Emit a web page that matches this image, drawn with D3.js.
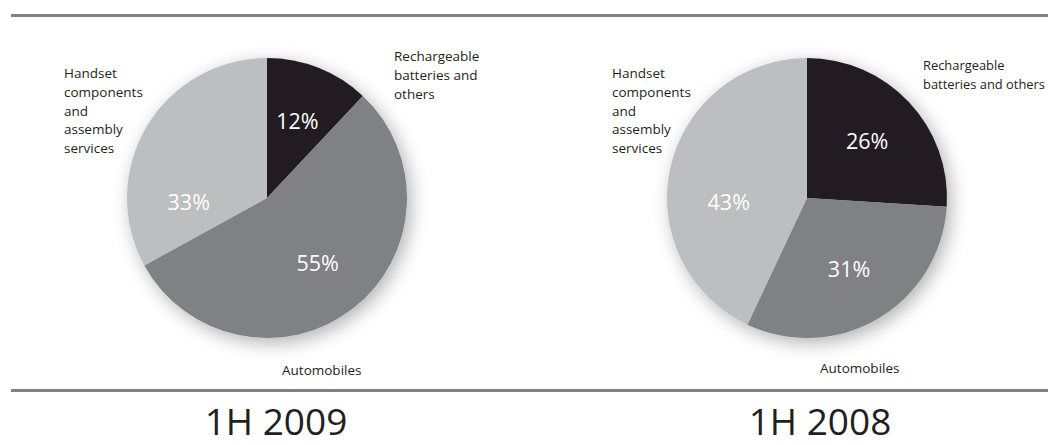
<!DOCTYPE html>
<html>
<head>
<meta charset="utf-8">
<script src="https://cdn.jsdelivr.net/npm/d3@7"></script>
<style>
  body { margin: 0; background: #fff; }
  svg { display: block; font-family: "Open Sans", "Noto Sans", sans-serif; }
</style>
</head>
<body>
<script>
// data
const categories = ["Rechargeable batteries and others", "Automobiles", "Handset components and assembly services"];
const periods = ["1H 2009", "1H 2008"];
const share2009 = [12, 55, 33];
const share2008 = [26, 31, 43];
const sliceColours = ["#231f20", "#808184", "#bcbec0"];

// how the category names are broken into lines next to each pie
const labelLines2009 = [["Rechargeable", "batteries and", "others"], ["Automobiles"], ["Handset", "components", "and", "assembly", "services"]];
const labelLines2008 = [["Rechargeable", "batteries and others"], ["Automobiles"], ["Handset", "components", "and", "assembly", "services"]];

let width = 1048,
  height = 445;

let svg = d3.select("body").append("svg")
  .attr("width", width)
  .attr("height", height);

// soft drop shadow under the pies
let defs = svg.append("defs");
let shadow = defs.append("filter")
  .attr("id", "shadow")
  .attr("x", "-30%").attr("y", "-30%")
  .attr("width", "160%").attr("height", "160%");
shadow.append("feDropShadow")
  .attr("dx", 4).attr("dy", 5)
  .attr("stdDeviation", 9)
  .attr("flood-color", "#000")
  .attr("flood-opacity", 0.3);

// grey rules top and bottom
svg.selectAll("line.rule")
  .data([15.5, 390.5])
  .enter().append("line")
  .attr("class", "rule")
  .attr("x1", 11).attr("x2", width)
  .attr("y1", d => d).attr("y2", d => d)
  .attr("stroke", "#808184")
  .attr("stroke-width", 3);

let radius = 140;
let pie = d3.pie().sort(null).value(d => d);
let arc = d3.arc().innerRadius(0).outerRadius(radius);

// panel layout: pie centre, title centre and category label anchors (relative to pie centre)
let panels = [
  { values: share2009, lines: labelLines2009, title: periods[0], cx: 267, cy: 198, titleX: 276,
    anchors: [[127, -137], [15, 177], [-203, -120]], sizes: [13.5, 13.5, 13.5] },
  { values: share2008, lines: labelLines2008, title: periods[1], cx: 807, cy: 198, titleX: 820,
    anchors: [[116, -128], [13, 175], [-195, -120]], sizes: [12.9, 13.5, 13.5] }
];

panels.forEach(function(p) {
  let g = svg.append("g")
    .attr("transform", "translate(" + p.cx + "," + p.cy + ")");

  let arcs = pie(p.values);

  g.append("g")
    .attr("filter", "url(#shadow)")
    .selectAll("path")
    .data(arcs)
    .enter().append("path")
    .attr("d", arc)
    .attr("fill", (d, i) => sliceColours[i]);

  // percentage labels inside the slices
  g.selectAll("text.pct")
    .data(arcs)
    .enter().append("text")
    .attr("class", "pct")
    .attr("transform", function(d, i) {
      let a = (d.startAngle + d.endAngle) / 2;
      let r = radius * 0.59;
      // the handset share sits level with the centre, on the left
      if (i == 2) { a = Math.PI * 1.5 - 0.06; r = radius * 0.56; }
      return "translate(" + (r * Math.sin(a)) + "," + (-r * Math.cos(a)) + ")";
    })
    .attr("text-anchor", "middle")
    .attr("dy", "0.36em")
    .attr("fill", "#fff")
    .style("font-size", "21.5px")
    .text(d => d.value + "%");

  // category names
  let cats = g.selectAll("text.cat")
    .data(categories)
    .enter().append("text")
    .attr("class", "cat")
    .attr("x", (d, i) => p.anchors[i][0])
    .attr("y", (d, i) => p.anchors[i][1])
    .attr("fill", "#231f20")
    .style("font-size", (d, i) => p.sizes[i] + "px");

  cats.each(function(d, i) {
    d3.select(this).selectAll("tspan")
      .data(p.lines[i])
      .enter().append("tspan")
      .attr("x", p.anchors[i][0])
      .attr("dy", (t, j) => j == 0 ? 0 : 18.8)
      .text(t => t);
  });

  svg.append("text")
    .attr("x", p.titleX)
    .attr("y", 435)
    .attr("text-anchor", "middle")
    .attr("fill", "#231f20")
    .style("font-size", "37px")
    .text(p.title);
});
</script>
</body>
</html>
